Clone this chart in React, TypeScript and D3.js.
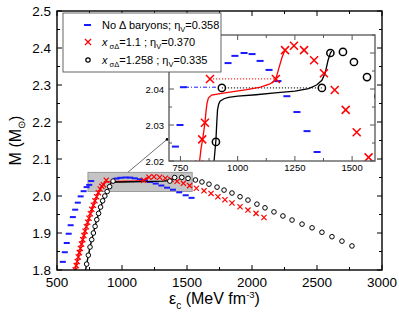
import React from 'react';
import * as d3 from 'd3';

// energy density (MeV fm^-3), mass (Msun)
const blueNoDelta: [number, number][] = [
  [545, 1.822], [560, 1.848], [575, 1.873], [590, 1.898], [605, 1.921], [622, 1.943],
  [640, 1.963], [660, 1.982], [682, 1.999], [705, 2.013], [728, 2.024], [748, 2.030],
  [763, 2.0405], [958, 2.0472], [988, 2.0492], [1028, 2.050], [1063, 2.0497], [1098, 2.0478],
  [1137, 2.0453], [1176, 2.0422], [1215, 2.038], [1259, 2.0336], [1303, 2.0283], [1347, 2.0225],
  [1392, 2.017], [1440, 2.010], [1490, 2.002], [1535, 1.995],
];
const blueMaxwell: [number, number][] = [[770, 2.0405], [915, 2.0405]];

const redCross: [number, number][] = [
  [640, 1.800], [648, 1.812], [656, 1.823], [664, 1.835], [672, 1.847], [680, 1.858],
  [689, 1.870], [698, 1.882], [707, 1.893], [716, 1.905], [726, 1.917], [736, 1.929],
  [746, 1.940], [757, 1.952], [768, 1.964], [780, 1.975], [792, 1.987], [805, 1.998],
  [818, 2.009], [832, 2.019], [845, 2.026], [857, 2.0306], [879, 2.0428], [1167, 2.0428],
  [1207, 2.0508], [1246, 2.052], [1290, 2.0508], [1334, 2.048], [1377, 2.0444], [1424, 2.0397],
  [1472, 2.0342], [1520, 2.028], [1572, 2.021], [1631, 2.014], [1685, 2.007], [1738, 1.998],
  [1792, 1.990], [1846, 1.981], [1908, 1.971], [1969, 1.962], [2031, 1.953], [2092, 1.942],
];
const redCurve: [number, number][] = [
  [630, 1.785], [640, 1.800], [664, 1.835], [689, 1.870], [716, 1.905], [746, 1.940],
  [780, 1.975], [805, 1.998], [832, 2.019], [840, 2.0235], [847, 2.026], [857, 2.0306],
  [862, 2.034], [866, 2.036], [872, 2.0375], [886, 2.0383], [930, 2.0388], [973, 2.0392],
  [1040, 2.0398], [1100, 2.0405], [1141, 2.0414], [1160, 2.0422], [1170, 2.0435],
  [1180, 2.0458], [1194, 2.0488], [1207, 2.0508],
];
const redMaxwell: [number, number][] = [[879, 2.0428], [1167, 2.0428]];

const blackCircle: [number, number][] = [
  [728, 1.816], [741, 1.840], [754, 1.862], [767, 1.882], [780, 1.900], [793, 1.918],
  [806, 1.936], [820, 1.953], [835, 1.970], [851, 1.987], [868, 2.000], [886, 2.012],
  [905, 2.0253], [931, 2.0403], [1368, 2.0403], [1405, 2.050], [1460, 2.0503], [1508, 2.0475],
  [1565, 2.0433], [1615, 2.038], [1669, 2.032], [1731, 2.024], [1785, 2.016], [1846, 2.008],
  [1908, 1.998], [1969, 1.989], [2038, 1.978], [2100, 1.968], [2169, 1.957], [2238, 1.946],
  [2308, 1.935], [2385, 1.924], [2462, 1.914], [2538, 1.902], [2615, 1.890], [2692, 1.878],
  [2769, 1.865],
];
const blackCurve: [number, number][] = [
  [720, 1.800], [728, 1.816], [754, 1.862], [780, 1.900], [806, 1.936], [835, 1.970],
  [868, 2.000], [886, 2.012], [897, 2.020], [901, 2.023], [905, 2.0258], [909, 2.031],
  [912, 2.0342], [917, 2.0358], [923, 2.0366], [940, 2.0373], [960, 2.0377], [1000, 2.038],
  [1080, 2.0384], [1163, 2.0389], [1250, 2.0394], [1310, 2.0401], [1345, 2.0411],
  [1368, 2.0424], [1383, 2.0446], [1395, 2.048], [1405, 2.050], [1411, 2.0505],
];
const blackMaxwell: [number, number][] = [[931, 2.0403], [1368, 2.0403]];

const xTicks = [500, 1000, 1500, 2000, 2500, 3000];
const yTicks = [1.8, 1.9, 2.0, 2.1, 2.2, 2.3, 2.4, 2.5];
const insetXTicks = [750, 1000, 1250, 1500];
// 2.05 label sits under the legend in the original, so only these are shown
const insetYTicks = [2.02, 2.03, 2.04];

const FONT = 'Liberation Sans, Arial, Helvetica, sans-serif';
const BLUE = '#1a1aff';
const RED = '#ff0000';

const Cross = ({x, y, s, w}: {x: number; y: number; s: number; w: number}) => (
  <path d={`M${x - s},${y - s}L${x + s},${y + s}M${x - s},${y + s}L${x + s},${y - s}`}
    stroke={RED} strokeWidth={w} fill="none" />
);

function Frame({x0, x1, y0, y1, color, w}: any) {
  return <rect x={x0} y={y0} width={x1 - x0} height={y1 - y0} fill="none" stroke={color} strokeWidth={w} />;
}

export default function App() {
  const W = 399, H = 326;
  const m = {l: 57, r: 382, t: 11, b: 270};
  const x = d3.scaleLinear().domain([500, 3000]).range([m.l, m.r]);
  const y = d3.scaleLinear().domain([1.8, 2.5]).range([m.b, m.t]);

  const ins = {l: 169, r: 375, t: 35, b: 161};
  const ix = d3.scaleLinear().domain([700, 1600]).range([ins.l, ins.r]);
  const iy = d3.scaleLinear().domain([2.02, 2.055]).range([ins.b, ins.t]);

  const mainLine = d3.line<[number, number]>().x(d => x(d[0])).y(d => y(d[1]));
  const insetLine = d3.line<[number, number]>().x(d => ix(d[0])).y(d => iy(d[1]));

  const xMinor = d3.range(500, 3001, 250);
  const yMinor = d3.range(1.8, 2.501, 0.05);
  const ixMinor = d3.range(750, 1600, 125);
  const iyMinor = d3.range(2.02, 2.0551, 0.005);

  return (
    <svg width={W} height={H} style={{position: 'absolute', left: 0, top: 0, background: '#fff'}}
      fontFamily={FONT}>
      <defs>
        <clipPath id="mainClip"><rect x={m.l} y={m.t} width={m.r - m.l} height={m.b - m.t} /></clipPath>
        <clipPath id="insetClip"><rect x={ins.l} y={ins.t} width={ins.r - ins.l} height={ins.b - ins.t} /></clipPath>
      </defs>

      {/* zoom region */}
      <rect x={x(738)} y={y(2.064)} width={x(1540) - x(738)} height={y(2.012) - y(2.064)}
        fill="#c4c4c4" stroke="#8a8a8a" strokeWidth={0.8} />

      <g clipPath="url(#mainClip)">
        {blueNoDelta.map((d, i) => (
          <rect key={i} x={x(d[0]) - 3} y={y(d[1]) - 1} width={6} height={2} fill={BLUE} />
        ))}
        <path d={mainLine(redCurve) || ''} fill="none" stroke={RED} strokeWidth={1.4} />
        <path d={mainLine(blackCurve) || ''} fill="none" stroke="#000" strokeWidth={1.4} />
        {redCross.map((d, i) => <Cross key={i} x={x(d[0])} y={y(d[1])} s={2.6} w={1.2} />)}
        {blackCircle.map((d, i) => (
          <circle key={i} cx={x(d[0])} cy={y(d[1])} r={2.3} fill="#fff" stroke="#000" strokeWidth={1} />
        ))}
      </g>

      {/* main ticks */}
      {xMinor.map(v => {
        const major = v % 500 === 0;
        const l = major ? 5 : 3;
        return (
          <g key={v} stroke="#000" strokeWidth={1}>
            <line x1={x(v)} x2={x(v)} y1={m.b} y2={m.b - l} />
            <line x1={x(v)} x2={x(v)} y1={m.t} y2={m.t + l} />
          </g>
        );
      })}
      {yMinor.map((v, i) => {
        const l = i % 2 === 0 ? 5 : 3;
        return (
          <g key={i} stroke="#000" strokeWidth={1}>
            <line x1={m.l} x2={m.l + l} y1={y(v)} y2={y(v)} />
            <line x1={m.r} x2={m.r - l} y1={y(v)} y2={y(v)} />
          </g>
        );
      })}
      <Frame x0={m.l} x1={m.r} y0={m.t} y1={m.b} color="#000" w={1.4} />
      {xTicks.map(v => (
        <text key={v} x={x(v)} y={m.b + 17} textAnchor="middle" fontSize={13.5}>{v}</text>
      ))}
      {yTicks.map(v => (
        <text key={v} x={m.l - 6} y={y(v) + 5} textAnchor="end" fontSize={13.5}>{v.toFixed(1)}</text>
      ))}
      <text x={(m.l + m.r) / 2 - 5} y={304} textAnchor="middle" fontSize={16}>
        ε<tspan fontSize={10} dy={5}>c</tspan><tspan dy={-5}> (MeV fm</tspan>
        <tspan fontSize={9.5} dy={-6}>-3</tspan><tspan dy={6}>)</tspan>
      </text>
      <text transform={`translate(21,${(m.t + m.b) / 2}) rotate(-90)`} textAnchor="middle" fontSize={16}>
        M (M<tspan fontSize={10} dy={4}>⊙</tspan><tspan dy={-4}>)</tspan>
      </text>

      {/* connector to inset */}
      <line x1={x(1045)} y1={y(2.064)} x2={ins.l - 2} y2={iy(2.026)} stroke="#333" strokeWidth={0.7} />
      <circle cx={ins.l - 2} cy={iy(2.026)} r={1.3} fill="#000" />

      {/* inset */}
      <rect x={ins.l} y={ins.t} width={ins.r - ins.l} height={ins.b - ins.t} fill="#fff" />
      <g clipPath="url(#insetClip)">
        <path d={insetLine(blueMaxwell) || ''} fill="none" stroke={BLUE} strokeWidth={1} strokeDasharray="4,2,1,2" />
        <path d={insetLine(redMaxwell) || ''} fill="none" stroke={RED} strokeWidth={1} strokeDasharray="1.2,1.8" />
        <path d={insetLine(blackMaxwell) || ''} fill="none" stroke="#000" strokeWidth={1} strokeDasharray="1.2,1.8" />
        {blueNoDelta.map((d, i) => (
          <rect key={i} x={ix(d[0]) - 3.5} y={iy(d[1]) - 1} width={7} height={2} fill={BLUE} />
        ))}
        <path d={insetLine(redCurve) || ''} fill="none" stroke={RED} strokeWidth={1.3} />
        <path d={insetLine(blackCurve) || ''} fill="none" stroke="#000" strokeWidth={1.3} />
        {redCross.map((d, i) => <Cross key={i} x={ix(d[0])} y={iy(d[1])} s={4} w={1.5} />)}
        {blackCircle.map((d, i) => (
          <circle key={i} cx={ix(d[0])} cy={iy(d[1])} r={3.6} fill="none" stroke="#000" strokeWidth={1.5} />
        ))}
      </g>
      {ixMinor.map(v => {
        const l = v % 250 === 0 ? 5 : 3;
        return (
          <g key={v} stroke="#555" strokeWidth={1}>
            <line x1={ix(v)} x2={ix(v)} y1={ins.b} y2={ins.b - l} />
            <line x1={ix(v)} x2={ix(v)} y1={ins.t} y2={ins.t + l} />
          </g>
        );
      })}
      {iyMinor.map((v, i) => {
        const l = i % 2 === 0 ? 5 : 3;
        return (
          <g key={i} stroke="#555" strokeWidth={1}>
            <line x1={ins.l} x2={ins.l + l} y1={iy(v)} y2={iy(v)} />
            <line x1={ins.r} x2={ins.r - l} y1={iy(v)} y2={iy(v)} />
          </g>
        );
      })}
      <Frame x0={ins.l} x1={ins.r} y0={ins.t} y1={ins.b} color="#555" w={1.3} />
      {insetXTicks.map(v => (
        <text key={v} x={ix(v)} y={ins.b + 10} textAnchor="middle" fontSize={9.5}>{v}</text>
      ))}
      {insetYTicks.map(v => (
        <text key={v} x={ins.l - 5} y={iy(v) + 3.5} textAnchor="end" fontSize={9.5}>{v.toFixed(2)}</text>
      ))}

      {/* legend */}
      <rect x={63} y={13} width={158} height={59} fill="#fff" stroke="#555" strokeWidth={0.9} />
      <rect x={84} y={24} width={7} height={2} fill={BLUE} />
      <Cross x={88} y={42} s={3} w={1.3} />
      <circle cx={88} cy={60} r={2.2} fill="none" stroke="#000" strokeWidth={1.2} />
      <text x={102} y={29} fontSize={11}>
        No Δ baryons; η<tspan fontSize={7.5} dy={3}>V</tspan><tspan dy={-3}>=0.358</tspan>
      </text>
      <text x={102} y={46} fontSize={11}>
        <tspan fontStyle="italic">x</tspan><tspan fontSize={7.5} dy={3}> σΔ</tspan>
        <tspan dy={-3}>=1.1 ; η</tspan><tspan fontSize={7.5} dy={3}>V</tspan><tspan dy={-3}>=0.370</tspan>
      </text>
      <text x={102} y={64} fontSize={11}>
        <tspan fontStyle="italic">x</tspan><tspan fontSize={7.5} dy={3}> σΔ</tspan>
        <tspan dy={-3}>=1.258 ; η</tspan><tspan fontSize={7.5} dy={3}>V</tspan><tspan dy={-3}>=0.335</tspan>
      </text>
    </svg>
  );
}
